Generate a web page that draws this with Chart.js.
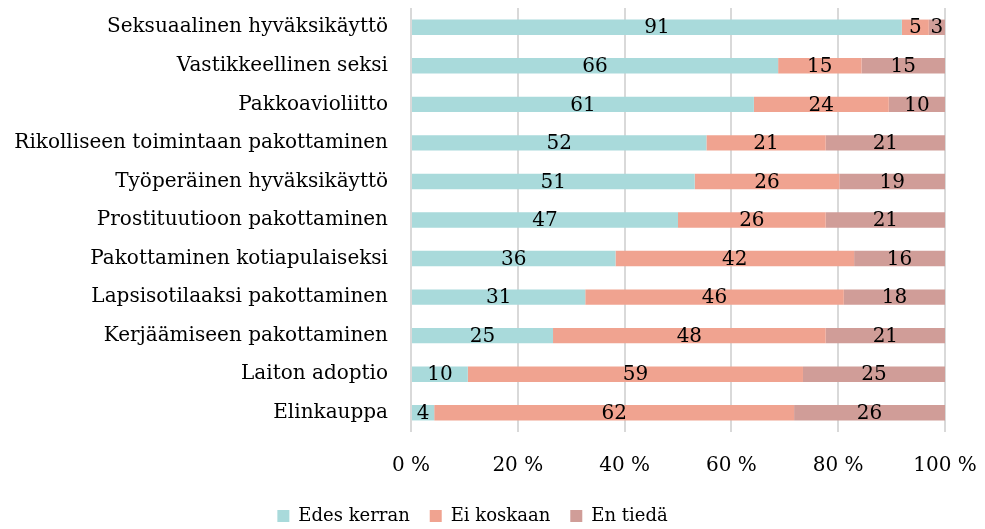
<!DOCTYPE html>
<html>
<head>
<meta charset="utf-8">
<script src="https://cdn.jsdelivr.net/npm/chart.js@4"></script>
<style>
  body { margin: 0; background: #fff; }
</style>
</head>
<body>
<canvas id="chart" width="985" height="529"></canvas>
<script>
const categories = [
  'Seksuaalinen hyväksikäyttö',
  'Vastikkeellinen seksi',
  'Pakkoavioliitto',
  'Rikolliseen toimintaan pakottaminen',
  'Työperäinen hyväksikäyttö',
  'Prostituutioon pakottaminen',
  'Pakottaminen kotiapulaiseksi',
  'Lapsisotilaaksi pakottaminen',
  'Kerjäämiseen pakottaminen',
  'Laiton adoptio',
  'Elinkauppa'
];
const edesKerran = [91, 66, 61, 52, 51, 47, 36, 31, 25, 10, 4];
const eiKoskaan = [5, 15, 24, 21, 26, 26, 42, 46, 48, 59, 62];
const enTieda = [3, 15, 10, 21, 19, 21, 16, 18, 21, 25, 26];
const seriesNames = ['Edes kerran', 'Ei koskaan', 'En tiedä'];
const colors = ['#a9dadb', '#f0a390', '#d09d98'];

const raw = [edesKerran, eiKoskaan, enTieda];
const totals = categories.map((c, i) => raw.reduce((s, arr) => s + arr[i], 0));

const FONT = '"DejaVu Serif", serif';

// labels drawn in the middle of each segment, showing the original value
const segmentLabels = {
  id: 'segmentLabels',
  afterDatasetsDraw(chart) {
    const ctx = chart.ctx;
    ctx.save();
    ctx.font = '20px ' + FONT;
    ctx.fillStyle = '#000';
    ctx.textAlign = 'center';
    ctx.textBaseline = 'middle';
    chart.data.datasets.forEach((ds, di) => {
      chart.getDatasetMeta(di).data.forEach((bar, i) => {
        const cx = (bar.x + bar.base) / 2;
        ctx.fillText(String(ds.raw[i]), cx, bar.y + 1);
      });
    });
    ctx.restore();
  }
};

new Chart(document.getElementById('chart'), {
  type: 'bar',
  data: {
    labels: categories,
    datasets: raw.map((arr, k) => ({
      label: seriesNames[k],
      raw: arr,
      data: arr.map((v, i) => v / totals[i] * 100),
      backgroundColor: colors[k],
      borderWidth: 0,
      barPercentage: 0.4,
      categoryPercentage: 1
    }))
  },
  options: {
    indexAxis: 'y',
    responsive: false,
    animation: false,
    layout: { padding: { top: 8, right: 40, left: 0, bottom: -6 } },
    scales: {
      x: {
        stacked: true,
        min: 0,
        max: 100,
        ticks: {
          stepSize: 20,
          padding: 22,
          color: '#000',
          font: { family: FONT, size: 20 },
          callback: v => v + ' %'
        },
        grid: { color: '#d9d9d9', lineWidth: 2, drawTicks: false },
        border: { display: false },
        afterFit(scale) {
          scale.height -= 13;
          scale.paddingLeft = 0;
          scale.paddingRight = 0;
        }
      },
      y: {
        stacked: true,
        ticks: {
          padding: 15,
          color: '#000',
          font: { family: FONT, size: 20 }
        },
        grid: { display: false },
        border: { display: false },
        afterFit(scale) {
          scale.width = 411;
          scale.paddingTop = 0;
          scale.paddingBottom = 0;
        }
      }
    },
    plugins: {
      legend: {
        position: 'bottom',
        labels: {
          boxWidth: 12,
          boxHeight: 12,
          padding: 20,
          color: '#000',
          font: { family: FONT, size: 18 }
        }
      },
      tooltip: { enabled: false }
    }
  },
  plugins: [segmentLabels]
});
</script>
</body>
</html>
